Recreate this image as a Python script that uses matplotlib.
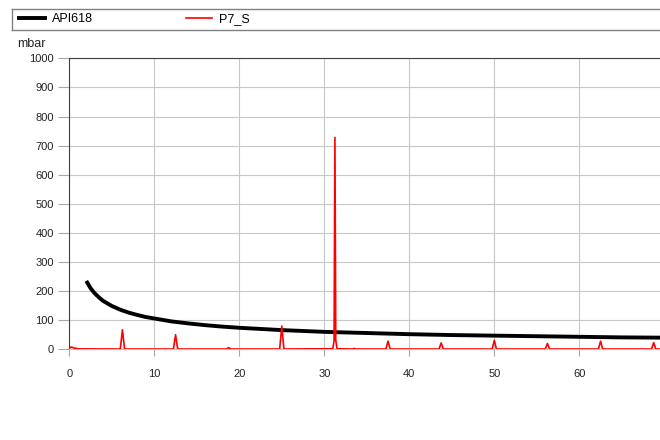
import matplotlib
matplotlib.use("Agg")
import matplotlib.pyplot as plt
from matplotlib.lines import Line2D

plt.rcParams['font.family'] = ['Liberation Sans', 'DejaVu Sans']

# API618 allowable pulsation limit
api_freq = [2, 2.5, 3, 3.5, 4, 5, 6, 7, 8, 9, 10, 12, 14, 16, 18, 20,
            25, 30, 35, 40, 45, 50, 55, 60, 65, 70, 75, 80]
api_amp = [235, 210, 192, 178, 166, 149, 136, 126, 118, 111, 106, 96, 89, 83, 78, 74,
           66, 60, 56, 52, 49, 47, 45, 43, 41, 40, 38, 37]

# P7_S pulsation spectrum
p7_freq = [0.0, 0.2, 0.6, 1.2,
           6.0, 6.25, 6.5,
           12.25, 12.5, 12.75,
           18.5, 18.75, 19.0,
           24.75, 25.0, 25.25,
           31.0, 31.15, 31.25, 31.35, 31.5,
           33.3, 33.5, 33.7,
           37.25, 37.5, 37.75,
           43.5, 43.75, 44.0,
           49.75, 50.0, 50.25,
           56.0, 56.25, 56.5,
           62.25, 62.5, 62.75,
           68.5, 68.75, 69.0, 80.0]
p7_amp = [3, 8, 4, 1.5,
          1, 67, 1,
          1, 50, 1,
          1, 6, 1,
          1, 80, 1,
          2, 30, 728, 30, 2,
          1, 3, 1,
          1, 28, 1,
          1, 22, 1,
          1, 31, 1,
          1, 20, 1,
          1, 28, 1,
          1, 23, 1, 1]

y_ticks = list(range(0, 1001, 100))
x_ticks = list(range(0, 61, 10))

fig = plt.figure(figsize=(6.6, 4.4), dpi=100)
ax = fig.add_axes([0.105, 0.2061, 1.0303, 0.6614])

ax.plot(api_freq, api_amp, color='black', lw=2.8, solid_capstyle='butt', zorder=3)
ax.plot(p7_freq, p7_amp, color='#ff0000', lw=1.2, zorder=4)

ax.set_xlim(0, 80)
ax.set_ylim(0, 1000)
ax.set_xticks(x_ticks)
ax.set_yticks(y_ticks)
ax.grid(True, color='#c8c8c8', lw=0.8)
ax.set_axisbelow(True)

ax.spines['right'].set_visible(False)
ax.spines['bottom'].set_color('#c8c8c8')
ax.spines['left'].set_color('#404040')
ax.spines['top'].set_color('#404040')

ax.tick_params(axis='y', length=8, color='#a8a8a8', pad=3, labelsize=8, labelcolor='#222222')
ax.tick_params(axis='x', length=5, color='#a8a8a8', pad=9, labelsize=8, labelcolor='#222222')

fig.text(17 / 660, 1 - 44 / 440, 'mbar', fontsize=9, color='#222222', va='center', ha='left')

# legend box
leg_ax = fig.add_axes([11.7 / 660, 1 - 30 / 440, 1.0, 21 / 440])
leg_ax.set_xticks([])
leg_ax.set_yticks([])
for s in leg_ax.spines.values():
    s.set_color('#808080')
    s.set_linewidth(1.0)

handles = [Line2D([], [], color='black', lw=2.8), Line2D([], [], color='#ff0000', lw=1.2)]
fig.legend(handles, ['API618', 'P7_S'], loc='center left',
           bbox_to_anchor=(19 / 660, 1 - 19.5 / 440), ncol=2, frameon=False,
           fontsize=9, handlelength=2.1, handletextpad=0.55, columnspacing=7.4,
           borderaxespad=0, borderpad=0)

fig.savefig('out.png', dpi=100)
